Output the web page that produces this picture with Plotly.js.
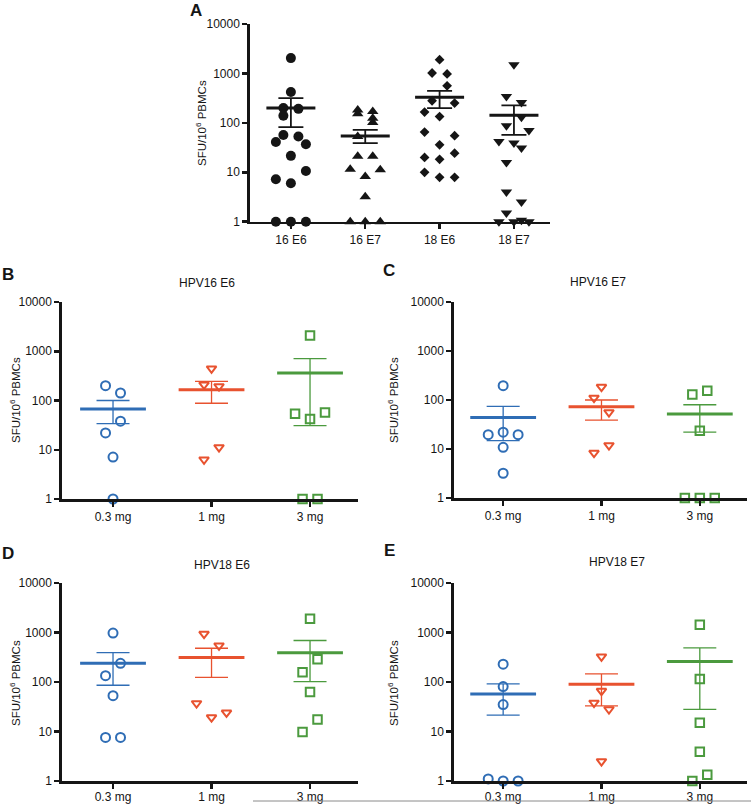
<!DOCTYPE html>
<html>
<head>
<meta charset="utf-8">
<script src="https://cdn.plot.ly/plotly-3.0.1.min.js"></script>
<style>html,body{margin:0;padding:0;background:#fff;}#chart{width:751px;height:804px;}</style>
</head>
<body>
<div id="chart"></div>
<script>
// ---------------- DATA ----------------
// Panel A: all groups
const catsA = ['16 E6', '16 E7', '18 E6', '18 E7'];
const a16E6 = [2040, 420, 199, 192, 139, 57, 53, 41, 37, 21.5, 10.6, 7.2, 6.0, 1, 1, 1];
const a16E6Lane = [0, 0, -1, 1, -1, -1, 1, -2, 2, 0, 2, -2, 0, -2, 0, 2];
const a16E7 = [183, 152, 170, 124, 102, 53, 21, 21, 11.5, 11.2, 8.2, 3.2, 1, 1, 1];
const a16E7Lane = [-1, -1, 1, 1, 1, -1, -1, 1, -2, 2, 0, 0, -2, 0, 2];
const a18E6 = [1900, 1020, 975, 563, 280, 251, 165, 134, 65, 55, 36, 24.4, 20, 18.3, 10, 7.9, 7.9];
const a18E6Lane = [0, -1, 1, 1, -1, 2, -2, 0, -2, 2, 0, 2, -2, 0, -2, 0, 2];
const a18E7 = [1500, 343, 258, 130, 87, 70, 42, 39, 31, 15.7, 4.0, 2.5, 1.5, 1, 1, 1.07, 1];
const a18E7Lane = [0, -1, 1, 1, -1, 2, -2, 0, 1, -1, -1, 1, -1, -2, 0, 1, 2];
const meanA = [199, 54.5, 331, 143];
const semHiA = [316, 72, 445, 225];
const semLoA = [82, 39, 198, 57];

// Panels B-E: dose groups
const doses = ['0.3 mg', '1 mg', '3 mg'];
const titlesBE = ['HPV16 E6', 'HPV16 E7', 'HPV18 E6', 'HPV18 E7'];

const b03 = [200, 142, 38, 22, 7.1, 1];      const b03Lane = [-1, 1, 1, -1, 0, 0];
const b1  = [445, 209, 194, 11.2, 6.3];       const b1Lane  = [0, -1, 1, 1, -1];
const b3  = [2080, 57, 54, 42, 1, 1];         const b3Lane  = [0, 2, -2, 0, -1, 1];
const meanB = [67, 166, 361]; const semHiB = [100, 245, 707]; const semLoB = [34, 88, 31];

const c03 = [196, 22, 19.6, 19.6, 10.8, 3.2]; const c03Lane = [0, 0, -2, 2, 0, 0];
const c1  = [185, 111, 56, 11.9, 8.3];        const c1Lane  = [0, -1, 1, 1, -1];
const c3  = [155, 129, 23.6, 1, 1, 1];        const c3Lane  = [1, -1, 0, -2, 0, 2];
const meanC = [44, 73, 52]; const semHiC = [74, 100, 80]; const semLoC = [14.8, 39, 22];

const d03 = [973, 239, 134, 53, 7.6, 7.6];    const d03Lane = [0, 1, -1, 0, -1, 1];
const d1  = [937, 545, 37, 24, 19.2];         const d1Lane  = [-1, 1, -2, 2, 0];
const d3  = [1900, 288, 157, 63, 17.5, 9.8];  const d3Lane  = [0, 1, -1, 0, 1, -1];
const meanD = [239, 311, 392]; const semHiD = [392, 481, 690]; const semLoD = [86, 124, 102];

const e03 = [229, 81, 35, 1.1, 1, 1];         const e03Lane = [0, 0, 0, -2, 0, 2];
const e1  = [326, 66, 38, 28, 2.5];           const e1Lane  = [0, 0, -1, 1, 0];
const e3  = [1430, 115, 15, 3.9, 1.34, 1];    const e3Lane  = [0, 0, 0, 0, 1, -1];
const meanE = [57, 90, 258]; const semHiE = [92, 146, 489]; const semLoE = [21.5, 33, 28];

const yTickVals = [1, 10, 100, 1000, 10000];
const yTickText = ['1', '10', '100', '1000', '10000'];
const yTitle = 'SFU/10<sup>6</sup> PBMCs';

// ---------------- STYLE / LAYOUT HELPERS ----------------
const W = 751, H = 804;
const fx = v => v / W;
const fy = v => 1 - v / H;
const FONT = 'Arial, "Liberation Sans", Helvetica, sans-serif';
const INK = '#151515';
const doseColors = ['#2f6db5', '#e8522f', '#4b9a3e'];
const doseSymbols = ['circle-open', 'triangle-down-open', 'square-open'];
const doseSizes = [9, 8.5, 8.5];

const traces = [];

function pointsTrace(vals, lanes, idx, laneStep, ax, marker) {
  return {
    type: 'scatter', mode: 'markers', xaxis: 'x' + ax, yaxis: 'y' + ax,
    x: vals.map((v, i) => idx + lanes[i] * laneStep), y: vals,
    marker: marker, cliponaxis: false, showlegend: false, hoverinfo: 'y'
  };
}
function meanTrace(means, hi, lo, ax, colors, lineSize, capW, meanW, errW) {
  const out = [];
  means.forEach((m, i) => {
    out.push({
      type: 'scatter', mode: 'markers', xaxis: 'x' + ax, yaxis: 'y' + ax,
      x: [i], y: [m], cliponaxis: false, showlegend: false, hoverinfo: 'y',
      marker: {symbol: 'line-ew', size: lineSize, color: colors[i], line: {color: colors[i], width: meanW}},
      error_y: {type: 'data', symmetric: false, array: [hi[i] - m], arrayminus: [m - lo[i]],
                color: colors[i], thickness: errW, width: capW}
    });
  });
  return out;
}

// Panel A
const laneA = 0.101;
const groupsA = [[a16E6, a16E6Lane, 'circle', 10], [a16E7, a16E7Lane, 'triangle-up', 10],
                 [a18E6, a18E6Lane, 'diamond', 7.5], [a18E7, a18E7Lane, 'triangle-down', 10]];
groupsA.forEach((g, i) => {
  traces.push(pointsTrace(g[0], g[1], i, laneA, '', {symbol: g[2], size: g[3], color: INK, line: {width: 0}}));
});
meanTrace(meanA, semHiA, semLoA, '', [INK, INK, INK, INK], 35, 12.5, 3, 1.8).forEach(t => traces.push(t));

// Panels B-E
const laneBE = 0.076;
const panels = [
  {ax: '2', data: [[b03, b03Lane], [b1, b1Lane], [b3, b3Lane]], m: meanB, hi: semHiB, lo: semLoB},
  {ax: '3', data: [[c03, c03Lane], [c1, c1Lane], [c3, c3Lane]], m: meanC, hi: semHiC, lo: semLoC},
  {ax: '4', data: [[d03, d03Lane], [d1, d1Lane], [d3, d3Lane]], m: meanD, hi: semHiD, lo: semLoD},
  {ax: '5', data: [[e03, e03Lane], [e1, e1Lane], [e3, e3Lane]], m: meanE, hi: semHiE, lo: semLoE}
];
panels.forEach(p => {
  p.data.forEach((d, i) => {
    traces.push(pointsTrace(d[0], d[1], i, laneBE, p.ax,
      {symbol: doseSymbols[i], size: doseSizes[i], color: doseColors[i], line: {color: doseColors[i], width: 2}}));
  });
  meanTrace(p.m, p.hi, p.lo, p.ax, doseColors, 47, 16.5, 3, 1.3).forEach(t => traces.push(t));
});

function xAxis(domainPx, range, ticktext, anchor, standoff) {
  return {
    domain: [fx(domainPx[0]), fx(domainPx[1])], range: range, anchor: anchor,
    tickvals: ticktext.map((_, i) => i), ticktext: ticktext,
    showline: true, linewidth: 2.7, linecolor: INK, ticks: 'outside', ticklen: 5, tickwidth: 2.5, tickcolor: INK,
    ticklabelstandoff: standoff || 0,
    showgrid: false, zeroline: false, tickfont: {family: FONT, size: 12, color: INK}, fixedrange: true
  };
}
function yAxis(domainPx, anchor) {
  return {
    domain: [fy(domainPx[1]), fy(domainPx[0])], type: 'log', range: [0, 4], anchor: anchor,
    tickvals: yTickVals, ticktext: yTickText,
    showline: true, linewidth: 2.7, linecolor: INK, ticks: 'outside', ticklen: 5, tickwidth: 2.5, tickcolor: INK,
    showgrid: false, zeroline: false, tickfont: {family: FONT, size: 12, color: INK}, fixedrange: true
  };
}

const layout = {
  width: W, height: H, margin: {l: 0, r: 0, t: 0, b: 0},
  paper_bgcolor: '#fff', plot_bgcolor: 'rgba(0,0,0,0)', showlegend: false,
  font: {family: FONT, color: INK},
  xaxis:  xAxis([250, 550], [-0.55, 3.485], catsA, 'y'),
  yaxis:  yAxis([24, 221.7], 'x'),
  xaxis2: xAxis([62, 358], [-0.518, 2.487], doses, 'y2'),
  yaxis2: yAxis([302, 499], 'x2'),
  xaxis3: xAxis([454, 747], [-0.5, 2.48], doses, 'y3'),
  yaxis3: yAxis([302, 498], 'x3'),
  xaxis4: xAxis([62, 358], [-0.518, 2.487], doses, 'y4', -2),
  yaxis4: yAxis([583, 781], 'x4'),
  xaxis5: xAxis([454, 747], [-0.5, 2.48], doses, 'y5', -2),
  yaxis5: yAxis([583, 781], 'x5'),
  annotations: [],
  shapes: [
    {type: 'line', xref: 'paper', yref: 'paper', x0: fx(253), x1: 1, y0: fy(801), y1: fy(801),
     line: {color: '#8a8a8a', width: 1}}
  ]
};

function ann(text, x, y, opts) {
  layout.annotations.push(Object.assign({text: text, xref: 'paper', yref: 'paper', x: fx(x), y: fy(y),
    xanchor: 'center', yanchor: 'middle', showarrow: false, font: {family: FONT, size: 12, color: INK}}, opts || {}));
}
// Panel letters
ann('<b>A</b>', 196, 10, {font: {family: FONT, size: 17, color: INK}});
ann('<b>B</b>', 8, 274, {font: {family: FONT, size: 17, color: INK}});
ann('<b>C</b>', 389, 270, {font: {family: FONT, size: 17, color: INK}});
ann('<b>D</b>', 8, 553, {font: {family: FONT, size: 17, color: INK}});
ann('<b>E</b>', 389, 550, {font: {family: FONT, size: 17, color: INK}});
// Panel titles
ann(titlesBE[0], 207, 283);
ann(titlesBE[1], 598, 282);
ann(titlesBE[2], 222, 565);
ann(titlesBE[3], 617, 562);
// Y-axis titles
const yt = {textangle: -90, font: {family: FONT, size: 11.5, color: INK}};
ann(yTitle, 201, 123, yt);
ann(yTitle, 15, 400, yt);
ann(yTitle, 393, 400, yt);
ann(yTitle, 15, 683, yt);
ann(yTitle, 393, 683, yt);

Plotly.newPlot('chart', traces, layout, {staticPlot: true, displayModeBar: false});
</script>
</body>
</html>
